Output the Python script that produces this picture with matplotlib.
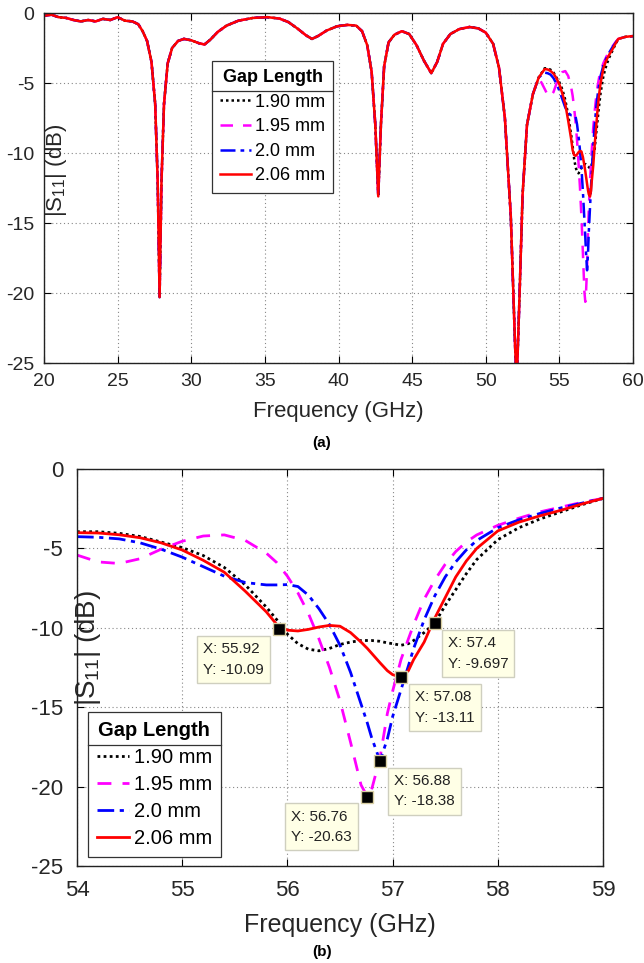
import matplotlib
matplotlib.use('Agg')
import matplotlib.pyplot as plt
from matplotlib.lines import Line2D

plt.rcParams['font.family'] = ['Liberation Sans', 'DejaVu Sans']
plt.rcParams['mathtext.default'] = 'regular'
plt.rcParams['axes.unicode_minus'] = False

# ---------------- data ----------------
# part shared by all gap lengths (20 - 53.6 GHz)
freq_common = [20.0, 20.5, 21.0, 21.5, 22.0, 22.5, 23.0, 23.5, 24.0, 24.5, 25.0, 25.5,
               26.0, 26.4, 26.7, 27.0, 27.3, 27.55, 27.72, 27.85, 27.98, 28.15, 28.4,
               28.7, 29.1, 29.5, 30.0, 30.5, 30.9, 31.3, 31.8, 32.4, 33.2, 34.2, 35.2,
               36.0, 36.6, 37.2, 37.8, 38.2, 38.6, 39.2, 39.9, 40.6, 41.2, 41.6, 41.95,
               42.25, 42.5, 42.7, 42.88, 43.1, 43.4, 43.8, 44.3, 44.8, 45.3, 45.8, 46.3,
               46.7, 47.1, 47.6, 48.2, 48.9, 49.5, 50.0, 50.5, 50.9, 51.3, 51.7, 52.0,
               52.1, 52.3, 52.5, 52.8, 53.2, 53.6]
s11_common = [-0.2, -0.12, -0.3, -0.35, -0.5, -0.6, -0.5, -0.6, -0.42, -0.5, -0.3, -0.55,
              -0.6, -0.8, -1.3, -2.0, -3.5, -6.5, -12.0, -20.3, -12.0, -6.5, -3.6,
              -2.5, -2.0, -1.85, -1.95, -2.15, -2.25, -1.9, -1.35, -0.9, -0.55, -0.35, -0.3,
              -0.4, -0.65, -1.1, -1.6, -1.85, -1.65, -1.25, -0.95, -0.85, -0.9, -1.3, -2.3,
              -4.2, -8.0, -13.1, -8.0, -3.8, -2.1, -1.55, -1.3, -1.5, -2.3, -3.4, -4.3,
              -3.5, -2.2, -1.5, -1.15, -1.0, -1.1, -1.4, -2.2, -3.9, -7.5, -14.5, -24.0,
              -26.5, -20.0, -13.0, -8.0, -5.8, -4.6]

# part that differs with gap length (54 - 59 GHz)
freq_zoom = [54.0, 54.2, 54.4, 54.6, 54.8, 55.0, 55.2, 55.4, 55.6, 55.8, 55.9, 56.0,
             56.1, 56.2, 56.3, 56.4, 56.5, 56.6, 56.7, 56.76, 56.8, 56.88, 56.95, 57.0,
             57.08, 57.15, 57.2, 57.3, 57.4, 57.5, 57.6, 57.7, 57.8, 58.0, 58.2, 58.4,
             58.6, 58.8, 59.0]
s11_190 = [-3.95, -3.95, -4.05, -4.25, -4.6, -4.95, -5.45, -6.2, -7.3, -8.7, -9.5, -10.4,
           -11.0, -11.35, -11.45, -11.3, -11.05, -10.9, -10.8, -10.8, -10.8, -10.85, -10.95, -11.0,
           -11.1, -11.0, -10.8, -10.3, -9.7, -8.6, -7.6, -6.6, -5.7, -4.45, -3.7, -3.15,
           -2.7, -2.25, -1.85]
s11_195 = [-5.42, -5.85, -5.95, -5.65, -5.05, -4.55, -4.22, -4.15, -4.5, -5.3, -5.9, -6.75,
           -7.8, -9.1, -10.7, -12.5, -14.6, -17.2, -19.9, -20.63, -20.2, -18.2, -15.4, -14.0,
           -12.0, -10.7, -9.8, -8.2, -7.0, -6.0, -5.2, -4.6, -4.15, -3.55, -3.1, -2.7,
           -2.4, -2.1, -1.85]
s11_200 = [-4.26, -4.3, -4.4, -4.65, -5.05, -5.55, -6.15, -6.75, -7.15, -7.3, -7.3, -7.28,
           -7.4, -7.95, -8.8, -9.8, -11.1, -12.8, -14.8, -16.0, -16.9, -18.38, -17.0, -15.6,
           -13.9, -12.4, -11.3, -9.5, -8.0, -6.8, -5.85, -5.1, -4.5, -3.7, -3.2, -2.8,
           -2.45, -2.15, -1.85]
s11_206 = [-4.01, -4.03, -4.14, -4.33, -4.65, -5.1, -5.75, -6.5, -7.7, -9.0, -9.8, -10.15,
           -10.2, -10.1, -9.95, -9.85, -9.9, -10.3, -10.9, -11.3, -11.6, -12.2, -12.7, -12.95,
           -13.11, -12.7, -12.0, -10.9, -9.4, -8.1, -6.8, -5.8, -5.0, -3.9, -3.35, -2.95,
           -2.6, -2.2, -1.85]

freq_tail = [59.5, 60.0]
s11_tail = [-1.7, -1.65]

gap_labels = ['1.90 mm', '1.95 mm', '2.0 mm', '2.06 mm']
series = [s11_190, s11_195, s11_200, s11_206]
colors = ['black', '#FF00FF', '#0000FF', '#FF0000']
styles = [(0, (1, 1.2)), (0, (5, 4)), (0, (6, 2, 1.5, 2)), '-']

tip_x = [55.92, 57.4, 57.08, 56.88, 56.76]
tip_y = [-10.09, -9.697, -13.11, -18.38, -20.63]
tip_off = [(-76, -13), (13, -13), (14, -13), (14, -13), (-76, -13)]

# ---------------- figure ----------------
fig = plt.figure(figsize=(6.44, 9.63), dpi=100)
W, H = 644, 963
axa = fig.add_axes([44 / W, 1 - 363 / H, 589 / W, 350 / H])
axb = fig.add_axes([77 / W, 1 - 866 / H, 526 / W, 397 / H])


def style_axes(ax, fs, pad):
    ax.grid(True, linestyle=(0, (1, 2.5)), color='#888888', linewidth=0.8)
    ax.tick_params(direction='in', top=True, right=True, length=5, width=0.8,
                   labelsize=fs, colors='black', pad=pad)
    for sp in ax.spines.values():
        sp.set_linewidth(1.0)
        sp.set_color('#222222')
    for lab in ax.get_xticklabels() + ax.get_yticklabels():
        lab.set_color('#262626')


# panel (a)
for s, c, ls, lab in zip(series, colors, styles, gap_labels):
    f = freq_common + freq_zoom + freq_tail
    v = s11_common + s + s11_tail
    axa.plot(f, v, color=c, linestyle=ls, linewidth=1.8, label=lab)
axa.set_xlim(20, 60)
axa.set_ylim(-25, 0)
axa.set_xticks(range(20, 61, 5))
axa.set_yticks(range(-25, 1, 5))
style_axes(axa, 14, 7)
axa.set_xlabel('Frequency (GHz)', fontsize=16, color='#262626', labelpad=8)
axa.set_ylabel('|S$_{11}$| (dB)', fontsize=16, color='#262626')
axa.yaxis.set_label_coords(0.042, 0.55)

# panel (b)
for s, c, ls, lab in zip(series, colors, styles, gap_labels):
    axb.plot(freq_zoom, s, color=c, linestyle=ls, linewidth=2.0, label=lab)
axb.plot(tip_x, tip_y, linestyle='none', marker='s', markersize=9,
         markerfacecolor='black', markeredgecolor='#d9cfa3', markeredgewidth=1.0, zorder=5)
for x, y, off in zip(tip_x, tip_y, tip_off):
    axb.annotate(f'X: {x:g}\nY: {y:g}', xy=(x, y), xytext=off, textcoords='offset pixels',
                 ha='left', va='top', fontsize=11, color='#222222', linespacing=1.6,
                 bbox=dict(boxstyle='square,pad=0.4', facecolor='#FFFFE6',
                           edgecolor='#cfcfbf', linewidth=1.0), zorder=6)
axb.set_xlim(54, 59)
axb.set_ylim(-25, 0)
axb.set_xticks(range(54, 60))
axb.set_yticks(range(-25, 1, 5))
style_axes(axb, 16, 10)
axb.set_xlabel('Frequency (GHz)', fontsize=18, color='#262626', labelpad=9)
axb.set_ylabel('|S$_{11}$| (dB)', fontsize=20, color='#262626')
axb.yaxis.set_label_coords(0.05, 0.55)

fig.text(0.5, 1 - 443 / H, '(a)', ha='center', va='center', fontsize=11, fontweight='bold')
fig.text(0.5, 1 - 952 / H, '(b)', ha='center', va='center', fontsize=11, fontweight='bold')

# legends
lega = axa.legend(loc='upper left', bbox_to_anchor=(0.285, 0.863), borderaxespad=0,
                  title='Gap Length', title_fontproperties={'weight': 'bold', 'size': 13},
                  fontsize=13, handlelength=1.7, handletextpad=0.25, labelspacing=0.42,
                  borderpad=0.45, fancybox=False, framealpha=1, edgecolor='#333333')
legb = axb.legend(loc='lower left', bbox_to_anchor=(0.02, 0.0227), borderaxespad=0,
                  title='Gap Length', title_fontproperties={'weight': 'bold', 'size': 14.5},
                  fontsize=14.5, handlelength=1.6, handletextpad=0.25, labelspacing=0.4,
                  borderpad=0.45, fancybox=False, framealpha=1, edgecolor='#333333')
for lg in (lega, legb):
    lg.get_frame().set_linewidth(0.9)

fig.canvas.draw()
r = fig.canvas.get_renderer()
inv = fig.transFigure.inverted()
for lg in (lega, legb):
    fb = lg.get_frame().get_window_extent(r)
    tb = lg.get_title().get_window_extent(r)
    ysep = tb.y0 - 5
    (x0, y0) = inv.transform((fb.x0, ysep))
    (x1, _) = inv.transform((fb.x1, ysep))
    fig.add_artist(Line2D([x0, x1], [y0, y0], transform=fig.transFigure,
                          color='#333333', linewidth=0.9, zorder=10))

fig.savefig('out.png', dpi=100)
